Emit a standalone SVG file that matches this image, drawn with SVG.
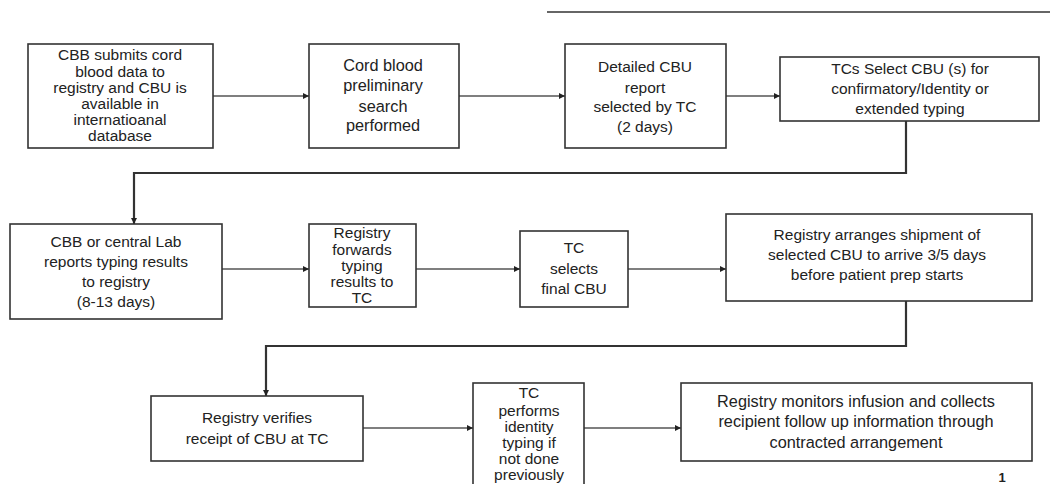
<svg xmlns="http://www.w3.org/2000/svg" width="1050" height="484" viewBox="0 0 1050 484">
<defs>
<style>
.box{fill:#fff;stroke:#333;stroke-width:1.6}
.t{font-family:"Liberation Sans",Arial,sans-serif;font-size:15.5px;fill:#222;text-anchor:middle}
.w{font-size:16.3px}
.c{fill:none;stroke:#555;stroke-width:1.6}
.e{fill:none;stroke:#333;stroke-width:2.2}
</style>
<marker id="ah" viewBox="0 0 10 10" refX="10" refY="5" markerWidth="8" markerHeight="6" markerUnits="userSpaceOnUse" orient="auto">
<path d="M0,0 L10,5 L0,10 z" fill="#222"/>
</marker>
</defs>
<rect width="1050" height="484" fill="#fff"/>
<line x1="547" y1="12" x2="1050" y2="12" stroke="#333" stroke-width="1.6"/>
<g id="connectors">
<line class="c" x1="213" y1="96" x2="309" y2="96" marker-end="url(#ah)"/>
<line class="c" x1="459" y1="96" x2="565" y2="96" marker-end="url(#ah)"/>
<line class="c" x1="726" y1="96" x2="780" y2="96" marker-end="url(#ah)"/>
<polyline class="e" points="906,121 906,173 134,173 134,224" marker-end="url(#ah)"/>
<line class="c" x1="222" y1="269" x2="309" y2="269" marker-end="url(#ah)"/>
<line class="c" x1="416" y1="269" x2="520" y2="269" marker-end="url(#ah)"/>
<line class="c" x1="628" y1="269" x2="726" y2="269" marker-end="url(#ah)"/>
<polyline class="e" points="906,301 906,346 266,346 266,396" marker-end="url(#ah)"/>
<line class="c" x1="363" y1="428" x2="473" y2="428" marker-end="url(#ah)"/>
<line class="c" x1="584" y1="428" x2="681" y2="428" marker-end="url(#ah)"/>
</g>
<g id="n1"><rect class="box" x="28" y="44" width="185" height="104"/>
<text class="t"><tspan x="120" y="60">CBB submits cord</tspan><tspan x="120" y="77">blood data to</tspan><tspan x="120" y="93">registry and CBU is</tspan><tspan x="120" y="109">available in</tspan><tspan x="120" y="125">internatioanal</tspan><tspan x="120" y="141">database</tspan></text></g>
<g id="n2"><rect class="box" x="309" y="44" width="150" height="104"/>
<text class="t w"><tspan x="383" y="71">Cord blood</tspan><tspan x="383" y="91">preliminary</tspan><tspan x="383" y="112">search</tspan><tspan x="383" y="131">performed</tspan></text></g>
<g id="n3"><rect class="box" x="565" y="44" width="161" height="104"/>
<text class="t"><tspan x="645" y="72">Detailed CBU</tspan><tspan x="645" y="93">report</tspan><tspan x="645" y="112">selected by TC</tspan><tspan x="645" y="132">(2 days)</tspan></text></g>
<g id="n4"><rect class="box" x="780" y="57" width="259" height="64"/>
<text class="t"><tspan x="910" y="74">TCs Select CBU (s) for</tspan><tspan x="910" y="94">confirmatory/Identity or</tspan><tspan x="910" y="114">extended typing</tspan></text></g>
<g id="n5"><rect class="box" x="10" y="224" width="212" height="95"/>
<text class="t"><tspan x="116" y="247">CBB or central Lab</tspan><tspan x="116" y="267">reports typing results</tspan><tspan x="116" y="287">to registry</tspan><tspan x="116" y="307">(8-13 days)</tspan></text></g>
<g id="n6"><rect class="box" x="309" y="224" width="107" height="83"/>
<text class="t"><tspan x="362" y="238">Registry</tspan><tspan x="362" y="255">forwards</tspan><tspan x="362" y="271">typing</tspan><tspan x="362" y="287">results to</tspan><tspan x="362" y="303">TC</tspan></text></g>
<g id="n7"><rect class="box" x="520" y="231" width="108" height="76"/>
<text class="t"><tspan x="574" y="253">TC</tspan><tspan x="574" y="274">selects</tspan><tspan x="574" y="294">final CBU</tspan></text></g>
<g id="n8"><rect class="box" x="726" y="214" width="306" height="87"/>
<text class="t"><tspan x="877" y="240">Registry arranges shipment of</tspan><tspan x="877" y="260">selected CBU to arrive 3/5 days</tspan><tspan x="877" y="280">before patient prep starts</tspan></text></g>
<g id="n9"><rect class="box" x="151" y="396" width="212" height="65"/>
<text class="t"><tspan x="257" y="423">Registry verifies</tspan><tspan x="257" y="444">receipt of CBU at TC</tspan></text></g>
<g id="n10"><rect class="box" x="473" y="383" width="111" height="110"/>
<text class="t"><tspan x="529" y="398">TC</tspan><tspan x="529" y="416">performs</tspan><tspan x="529" y="432">identity</tspan><tspan x="529" y="448">typing if</tspan><tspan x="529" y="464">not done</tspan><tspan x="529" y="480">previously</tspan></text></g>
<g id="n11"><rect class="box" x="681" y="383" width="351" height="78"/>
<text class="t w"><tspan x="856" y="407">Registry monitors infusion and collects</tspan><tspan x="856" y="427">recipient follow up information through</tspan><tspan x="856" y="448">contracted arrangement</tspan></text></g>
<text class="t" x="1002" y="482" style="font-weight:bold;font-size:13px">1</text>
</svg>
